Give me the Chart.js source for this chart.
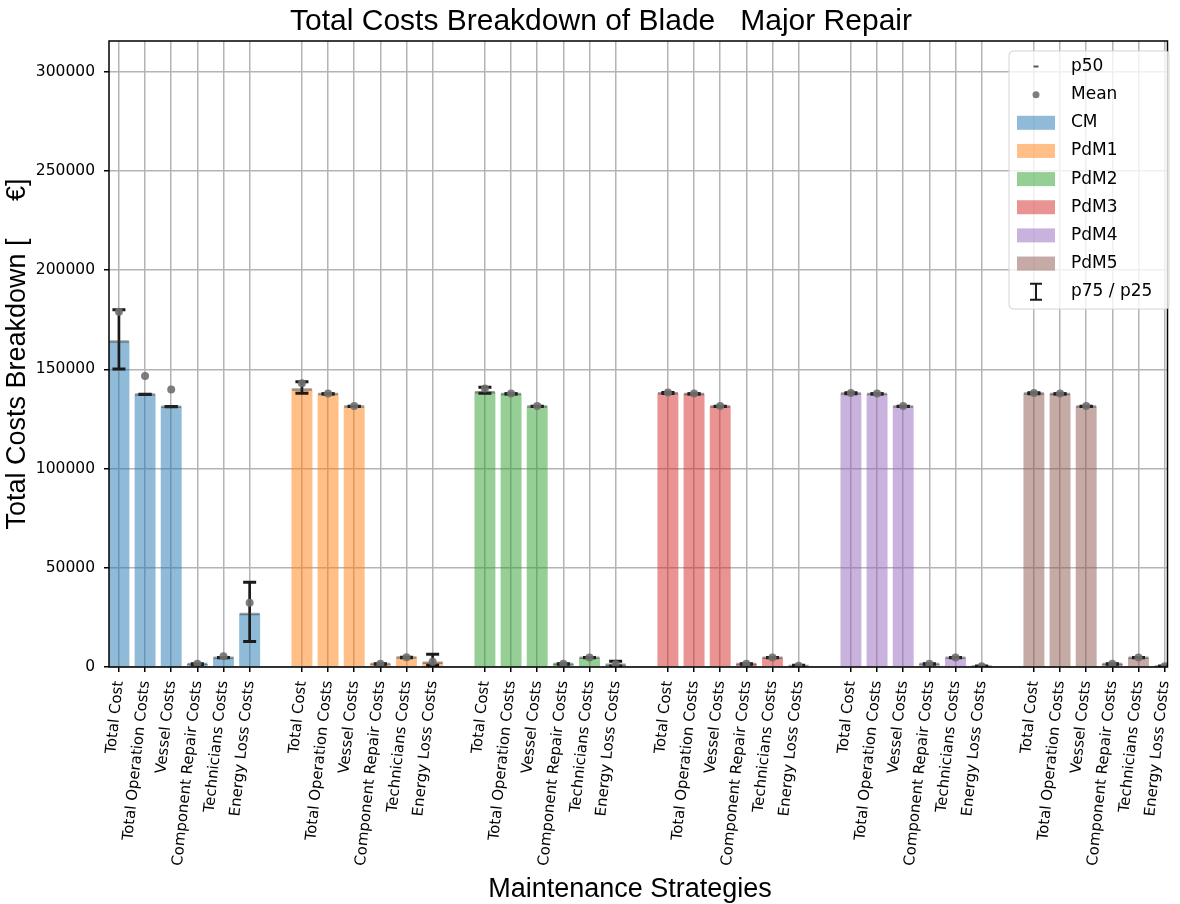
<!DOCTYPE html>
<html>
<head>
<meta charset="utf-8">
<script src="https://cdn.jsdelivr.net/npm/chart.js@4.4.1/dist/chart.umd.min.js"></script>
<style>
  html, body { margin: 0; padding: 0; background: #fff; }
  #wrap { width: 1180px; height: 904px; }
</style>
</head>
<body>
<div id="wrap"><canvas id="costChart" width="1180" height="904"></canvas></div>
<script>
const strategies = ["CM", "PdM1", "PdM2", "PdM3", "PdM4", "PdM5"];
const costItems = ["Total Cost", "Total Operation Costs", "Vessel Costs",
  "Component Repair Costs", "Technicians Costs", "Energy Loss Costs"];
const yTicks = [0, 50000, 100000, 150000, 200000, 250000, 300000];

// one row per strategy, one column per cost item (EUR)
const p50Values = [
  [164100, 137400, 131200, 1500, 4700, 26700],
  [139800, 137600, 131300, 1500, 4800, 2200],
  [138500, 137600, 131300, 1500, 4700, 1100],
  [138000, 137600, 131300, 1500, 4700, 500],
  [137900, 137600, 131300, 1500, 4700, 300],
  [137900, 137600, 131300, 1500, 4700, 300]
];
const meanValues = [
  [179000, 146700, 139800, 1700, 5400, 32400],
  [143000, 137900, 131500, 1600, 4900, 2600],
  [140300, 137800, 131500, 1600, 4800, 1400],
  [138300, 137800, 131500, 1600, 4800, 600],
  [138100, 137800, 131500, 1600, 4800, 400],
  [138100, 137800, 131500, 1600, 4800, 400]
];
const p25Values = [
  [150200, 137400, 131200, 1300, 4600, 12800],
  [138000, 137600, 131300, 1400, 4700, 900],
  [138000, 137600, 131300, 1400, 4600, 500],
  [137800, 137600, 131300, 1400, 4600, 200],
  [137700, 137600, 131300, 1400, 4600, 100],
  [137700, 137600, 131300, 1400, 4600, 100]
];
const p75Values = [
  [180000, 137500, 131300, 1600, 4800, 42700],
  [143800, 137700, 131400, 1600, 4900, 6400],
  [141000, 137700, 131400, 1600, 4800, 2900],
  [138400, 137700, 131400, 1600, 4800, 900],
  [138200, 137700, 131400, 1600, 4800, 500],
  [138200, 137700, 131400, 1600, 4800, 500]
];

const barColors = [
  "rgba(31,119,180,0.5)", "rgba(255,127,14,0.5)", "rgba(44,160,44,0.5)",
  "rgba(214,39,40,0.5)", "rgba(148,103,189,0.5)", "rgba(140,86,75,0.5)"
];
const WHISKER = "#1a1a1a";
const MEAN_COLOR = "rgba(112,112,112,0.9)";
const P50_COLOR = "rgba(45,45,45,0.45)";

// bars sit on integer slots, one empty slot between strategies
const slot = (g, i) => g * (costItems.length + 1) + i;
const toPoints = rows => rows.flatMap((row, g) => row.map((v, i) => ({ x: slot(g, i), y: v })));

const tickPositions = strategies.flatMap((_, g) => costItems.map((_, i) => slot(g, i)));
const tickLabels = {};
strategies.forEach((_, g) => costItems.forEach((name, i) => { tickLabels[slot(g, i)] = name; }));

Chart.defaults.font.family = "DejaVu Sans";
Chart.defaults.color = "#000";

const barSets = strategies.map((name, g) => ({
  type: "bar",
  label: name,
  data: p50Values[g].map((v, i) => ({ x: slot(g, i), y: v })),
  backgroundColor: barColors[g],
  borderWidth: 0,
  grouped: false,
  categoryPercentage: 1,
  barPercentage: 0.8,
  order: 10
}));

const whiskerSet = {
  type: "bar",
  label: "p75 / p25",
  data: p25Values.flatMap((row, g) => row.map((v, i) => ({ x: slot(g, i), y: [v, p75Values[g][i]] }))),
  backgroundColor: WHISKER,
  borderWidth: 0,
  grouped: false,
  barThickness: 2,
  order: 5
};

const capSet = {
  type: "line",
  label: "caps",
  data: toPoints(p25Values).concat(toPoints(p75Values)),
  showLine: false,
  pointStyle: "line",
  pointRadius: 6.5,
  pointBorderWidth: 3,
  pointBorderColor: WHISKER,
  order: 3
};

const p50Set = {
  type: "line",
  label: "p50",
  data: toPoints(p50Values),
  showLine: false,
  pointStyle: "line",
  pointRadius: 10,
  pointBorderWidth: 2.5,
  pointBorderColor: P50_COLOR,
  order: 2
};

const meanSet = {
  type: "line",
  label: "Mean",
  data: toPoints(meanValues),
  showLine: false,
  pointStyle: "circle",
  pointRadius: 4,
  pointBorderWidth: 0,
  pointBackgroundColor: MEAN_COLOR,
  order: 1
};

// frame around the plot area, titles and the boxed legend
const decor = {
  id: "decor",
  afterDraw(chart) {
    const { ctx, chartArea: a } = chart;
    ctx.save();
    ctx.strokeStyle = "#000";
    ctx.lineWidth = 1.5;
    ctx.strokeRect(a.left, a.top, a.right - a.left, a.bottom - a.top);

    ctx.fillStyle = "#000";
    ctx.textAlign = "center";
    ctx.textBaseline = "alphabetic";
    ctx.font = "30px 'Liberation Sans'";
    ctx.fillText("Total Costs Breakdown of Blade   Major Repair", 601, 30);
    ctx.font = "27px 'Liberation Sans'";
    ctx.fillText("Maintenance Strategies", 630, 897);

    // legend
    const bx = 1009, by = 51, bw = 160, bh = 258;
    ctx.beginPath();
    ctx.roundRect(bx, by, bw, bh, 4);
    ctx.fillStyle = "rgba(255,255,255,0.8)";
    ctx.fill();
    ctx.strokeStyle = "#d4d4d4";
    ctx.lineWidth = 1;
    ctx.stroke();

    const rows = [{ kind: "p50", label: "p50" }, { kind: "mean", label: "Mean" }]
      .concat(strategies.map((s, g) => ({ kind: "patch", label: s, color: barColors[g] })))
      .concat([{ kind: "iqr", label: "p75 / p25" }]);
    const mx = 1036;
    rows.forEach((r, k) => {
      const y = 66.5 + k * 28.15;
      if (r.kind === "p50") {
        ctx.strokeStyle = "rgba(45,45,45,0.8)";
        ctx.lineWidth = 2;
        ctx.beginPath(); ctx.moveTo(mx - 2.5, y); ctx.lineTo(mx + 2.5, y); ctx.stroke();
      } else if (r.kind === "mean") {
        ctx.fillStyle = MEAN_COLOR;
        ctx.beginPath(); ctx.arc(mx, y, 3.5, 0, Math.PI * 2); ctx.fill();
      } else if (r.kind === "patch") {
        ctx.fillStyle = r.color;
        ctx.fillRect(1017, y - 7, 38, 14);
      } else {
        ctx.strokeStyle = WHISKER;
        ctx.lineWidth = 2;
        ctx.beginPath();
        ctx.moveTo(mx, y - 8); ctx.lineTo(mx, y + 8);
        ctx.moveTo(mx - 6, y - 8); ctx.lineTo(mx + 6, y - 8);
        ctx.moveTo(mx - 6, y + 8); ctx.lineTo(mx + 6, y + 8);
        ctx.stroke();
      }
      ctx.fillStyle = "#000";
      ctx.font = "17px 'DejaVu Sans'";
      ctx.textAlign = "left";
      ctx.textBaseline = "middle";
      ctx.fillText(r.label, 1071, y);
    });
    ctx.restore();
  }
};

new Chart(document.getElementById("costChart"), {
  type: "bar",
  data: { datasets: [...barSets, whiskerSet, capSet, p50Set, meanSet] },
  plugins: [decor],
  options: {
    responsive: false,
    devicePixelRatio: 1,
    animation: false,
    events: [],
    layout: { padding: { top: 41, right: 7, bottom: 0, left: 0 } },
    plugins: { legend: { display: false }, title: { display: false }, tooltip: { enabled: false } },
    scales: {
      x: {
        type: "linear",
        min: -0.38,
        max: 40.11,
        offset: false,
        grid: { offset: false, color: "#b4b4b4", lineWidth: 1.5, tickColor: "#000", tickWidth: 1.5, tickLength: 5 },
        border: { display: false },
        afterBuildTicks: s => { s.ticks = tickPositions.map(v => ({ value: v })); },
        afterFit: s => { s.height = 237; s.paddingLeft = 0; s.paddingRight = 0; },
        ticks: {
          autoSkip: false,
          minRotation: 84,
          maxRotation: 84,
          padding: 8,
          font: { size: 15 },
          callback: v => tickLabels[v] || ""
        }
      },
      y: {
        min: 0,
        max: 315500,
        grid: { color: "#b4b4b4", lineWidth: 1.5, tickColor: "#000", tickWidth: 1.5, tickLength: 5 },
        border: { display: false },
        afterBuildTicks: s => { s.ticks = yTicks.map(v => ({ value: v })); },
        afterFit: s => { s.width = 109; s.paddingTop = 0; s.paddingBottom = 0; },
        ticks: {
          autoSkip: false,
          padding: 9,
          font: { size: 15.5 },
          callback: v => String(v)
        },
        title: {
          display: true,
          text: "Total Costs Breakdown [     €]",
          font: { family: "'Liberation Sans'", size: 27 },
          padding: { top: 1, bottom: 0 }
        }
      }
    }
  }
});
</script>
</body>
</html>
